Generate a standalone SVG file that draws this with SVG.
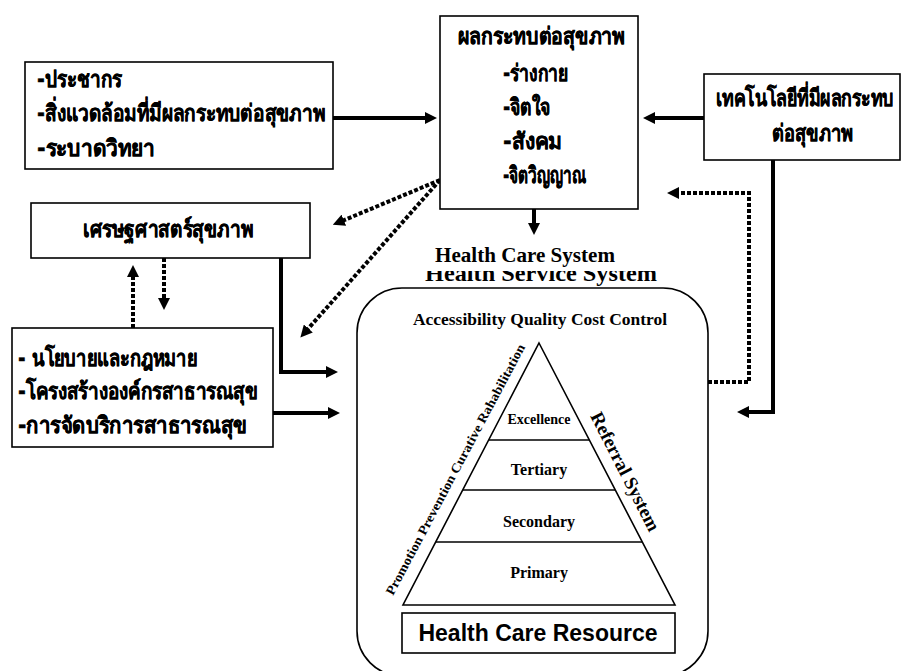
<svg xmlns="http://www.w3.org/2000/svg" width="907" height="671" viewBox="0 0 907 671">
<style>
.box{fill:#fff;stroke:#000;stroke-width:1.6}
.th{font-family:"DejaVu Sans","Noto Sans",sans-serif;font-weight:bold;font-size:23px;fill:#000;stroke:#000;stroke-width:0.4}
.tm{font-family:"Liberation Serif","Times New Roman",serif;font-weight:bold;fill:#000}
.solid{fill:none;stroke:#000;stroke-width:4}
.dot{fill:none;stroke:#000;stroke-width:4;stroke-dasharray:4 2}
.thin{fill:none;stroke:#000;stroke-width:1.6}
</style>
<defs>
<marker id="ah" markerUnits="userSpaceOnUse" markerWidth="12" markerHeight="12" viewBox="0 0 12 12" refX="2" refY="6" orient="auto">
<path d="M0,0 L12,6 L0,12 z" fill="#000"/>
</marker>
<clipPath id="hssclip"><rect x="400" y="271" width="300" height="16"/></clipPath>
</defs>
<rect width="907" height="671" fill="#fff"/>

<g id="connectors">
<path class="solid" d="M333,118 L427,118" marker-end="url(#ah)"/>
<path class="solid" d="M704,118 L653,118" marker-end="url(#ah)"/>
<path class="solid" d="M534,209 L534,225" marker-end="url(#ah)"/>
<path class="solid" d="M773,160 L773,412 L747,412" marker-end="url(#ah)"/>
<path class="solid" d="M281,258 L281,372 L328,372" marker-end="url(#ah)"/>
<path class="solid" d="M273,413 L330,413" marker-end="url(#ah)"/>
<path class="dot" d="M440,180 L342,221" marker-end="url(#ah)"/>
<path class="dot" d="M440,180 L307,330" marker-end="url(#ah)"/>
<path class="dot" d="M708,382 L749,382 L749,193 L677,193" marker-end="url(#ah)"/>
<path class="dot" d="M133,328 L133,275" marker-end="url(#ah)"/>
<path class="dot" d="M164,258 L164,300" marker-end="url(#ah)"/>
</g>

<g id="node-population">
<rect class="box" x="25" y="62" width="308" height="107"/>
<text class="th" x="37" y="87" textLength="85" lengthAdjust="spacingAndGlyphs">-ประชากร</text>
<text class="th" x="37" y="121" textLength="288" lengthAdjust="spacingAndGlyphs">-สิ่งแวดล้อมที่มีผลกระทบต่อสุขภาพ</text>
<text class="th" x="37" y="156" textLength="118" lengthAdjust="spacingAndGlyphs">-ระบาดวิทยา</text>
</g>

<g id="node-health-impact">
<rect class="box" x="440" y="16" width="198" height="193"/>
<text class="th" x="458" y="44" textLength="167" lengthAdjust="spacingAndGlyphs">ผลกระทบต่อสุขภาพ</text>
<text class="th" x="503" y="81" textLength="65" lengthAdjust="spacingAndGlyphs">-ร่างกาย</text>
<text class="th" x="503" y="115" textLength="47" lengthAdjust="spacingAndGlyphs">-จิตใจ</text>
<text class="th" x="503" y="149" textLength="59" lengthAdjust="spacingAndGlyphs">-สังคม</text>
<text class="th" x="503" y="183" textLength="83" lengthAdjust="spacingAndGlyphs">-จิตวิญญาณ</text>
</g>

<g id="node-technology">
<rect class="box" x="704" y="74" width="196" height="86"/>
<text class="th" x="716" y="106" textLength="178" lengthAdjust="spacingAndGlyphs">เทคโนโลยีที่มีผลกระทบ</text>
<text class="th" x="772" y="141" textLength="81" lengthAdjust="spacingAndGlyphs">ต่อสุขภาพ</text>
</g>

<g id="node-economics">
<rect class="box" x="31" y="203" width="279" height="55"/>
<text class="th" x="83" y="237" textLength="170" lengthAdjust="spacingAndGlyphs">เศรษฐศาสตร์สุขภาพ</text>
</g>

<g id="node-policy">
<rect class="box" x="12" y="328" width="261" height="119"/>
<text class="th" x="18" y="366" textLength="179" lengthAdjust="spacingAndGlyphs">- นโยบายและกฎหมาย</text>
<text class="th" x="18" y="399" textLength="240" lengthAdjust="spacingAndGlyphs">-โครงสร้างองค์กรสาธารณสุข</text>
<text class="th" x="18" y="433" textLength="229" lengthAdjust="spacingAndGlyphs">-การจัดบริการสาธารณสุข</text>
</g>

<g id="node-health-care-system">
<rect class="thin" x="357" y="288" width="351" height="388" rx="45" ry="45"/>
<text class="tm" x="541" y="281" font-size="23" text-anchor="middle" clip-path="url(#hssclip)" textLength="232" lengthAdjust="spacingAndGlyphs">Health  Service  System</text>
<text class="tm" x="525" y="262" font-size="20.5" text-anchor="middle" textLength="180" lengthAdjust="spacingAndGlyphs">Health Care System</text>
<text class="tm" x="540" y="325" font-size="16.5" text-anchor="middle" textLength="254" lengthAdjust="spacingAndGlyphs">Accessibility  Quality  Cost Control</text>
</g>

<g id="node-pyramid">
<path class="thin" d="M539,343 L675,605 L403,605 Z"/>
<line class="thin" x1="489" y1="440" x2="589" y2="440"/>
<line class="thin" x1="463" y1="490" x2="615" y2="490"/>
<line class="thin" x1="436" y1="542" x2="642" y2="542"/>
<text class="tm" x="539" y="424" font-size="14" text-anchor="middle">Excellence</text>
<text class="tm" x="539" y="475" font-size="16" text-anchor="middle">Tertiary</text>
<text class="tm" x="539" y="527" font-size="16" text-anchor="middle">Secondary</text>
<text class="tm" x="539" y="578" font-size="16" text-anchor="middle">Primary</text>
<text class="tm" font-size="13" transform="translate(393,596) rotate(-62)" textLength="282" lengthAdjust="spacingAndGlyphs">Promotion Prevention Curative Rahabilitation</text>
<text class="tm" font-size="19" transform="translate(590,416) rotate(63)" textLength="131" lengthAdjust="spacingAndGlyphs">Referral System</text>
</g>

<g id="node-resource">
<rect class="box" x="402" y="613" width="273" height="40"/>
<text x="538" y="641" font-family="Liberation Sans, Arial, sans-serif" font-weight="bold" font-size="23" text-anchor="middle">Health Care Resource</text>
</g>
</svg>
